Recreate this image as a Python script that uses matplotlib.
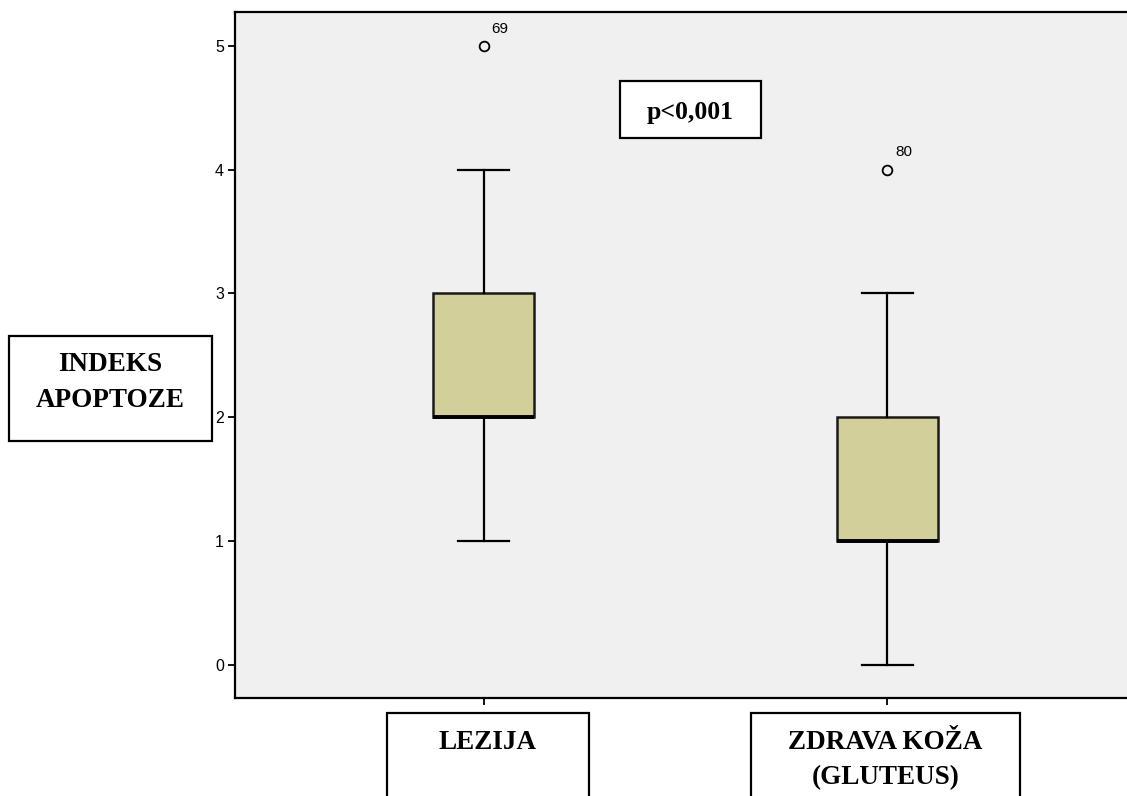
import matplotlib.pyplot as plt
from matplotlib.patches import Rectangle

# Box summaries per skin site (apoptosis index)
groups = ['LEZIJA', 'ZDRAVA KOŽA\n(GLUTEUS)']
whisker_low = [1, 0]
q1 = [2, 1]
medians = [2, 1]
q3 = [3, 2]
whisker_high = [4, 3]
outliers = [[5], [4]]
outlier_ids = [['69'], ['80']]
yticks = [0, 1, 2, 3, 4, 5]

W, H = 1127, 796
fig = plt.figure(figsize=(W / 100, H / 100), dpi=100)

# axes run off the right edge, as in the SPSS export
ax = fig.add_axes([235 / W, 1 - 698 / H, 900 / W, 686 / H])
ax.set_facecolor('#f0f0f0')

stats = []
for i in range(len(groups)):
    stats.append(dict(whislo=whisker_low[i], q1=q1[i], med=medians[i], q3=q3[i],
                      whishi=whisker_high[i], fliers=outliers[i]))

ax.bxp(stats, positions=[1, 2], widths=0.25, capwidths=0.126, patch_artist=True,
       boxprops=dict(facecolor='#d3cf9b', edgecolor='#1a1a1a', linewidth=1.8),
       medianprops=dict(color='black', linewidth=2.8),
       whiskerprops=dict(color='black', linewidth=1.6),
       capprops=dict(color='black', linewidth=1.6),
       flierprops=dict(marker='o', markersize=7, markerfacecolor='none',
                       markeredgecolor='black', markeredgewidth=1.3))

for pos, vals, ids in zip([1, 2], outliers, outlier_ids):
    for v, lab in zip(vals, ids):
        ax.annotate(lab, (pos, v), xytext=(5.5, 7.5), textcoords='offset points',
                    fontsize=11, family='Liberation Sans', ha='left', va='bottom')

ax.set_ylim(-0.27, 5.275)
ax.set_xlim(1 - 248.5 / 404, 1 + 651.5 / 404)
ax.set_yticks(yticks)
ax.set_yticklabels([str(t) for t in yticks], fontsize=11.5, family='Liberation Sans')
ax.set_xticks([1, 2])
ax.set_xticklabels([])
ax.tick_params(axis='both', direction='out', length=5, width=1.3, color='black')
ax.tick_params(axis='y', pad=3)
for side in ['left', 'bottom', 'top']:
    ax.spines[side].set_linewidth(1.6)
ax.spines['right'].set_visible(False)

serif = 'Liberation Serif'


def label_box(x0, y0, x1, y1, lines, baselines, size=19.5):
    # boxes placed in figure pixels, one baseline per text line
    fig.patches.append(Rectangle((x0 / W, 1 - y1 / H), (x1 - x0) / W, (y1 - y0) / H,
                                 transform=fig.transFigure, facecolor='white',
                                 edgecolor='black', linewidth=1.6, clip_on=False))
    for line, yb in zip(lines, baselines):
        fig.text((x0 + x1) / 2 / W, 1 - yb / H, line, ha='center', va='baseline',
                 fontsize=size, fontweight='bold', family=serif)


label_box(9, 336, 212, 441, ['INDEKS', 'APOPTOZE'], [371, 407])
label_box(387, 713, 589, 830, groups[0].split('\n'), [749])
label_box(751, 713, 1020, 830, groups[1].split('\n'), [749, 784])
label_box(620, 81, 761, 138, ['p<0,001'], [119], size=18.5)

fig.savefig('out.png', dpi=100, facecolor='white')
